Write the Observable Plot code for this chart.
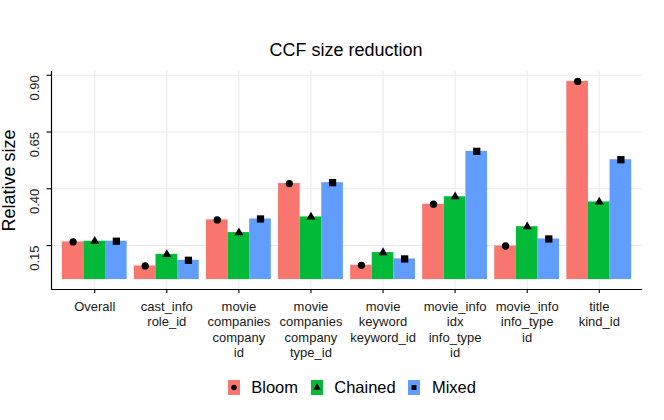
<!DOCTYPE html>
<html>
<head>
<meta charset="utf-8">
<script src="https://cdn.jsdelivr.net/npm/d3@7"></script>
<script src="https://cdn.jsdelivr.net/npm/@observablehq/plot@0.6"></script>
<style>
  body { margin: 0; background: #fff; font-family: "Liberation Sans", Arial, Helvetica, sans-serif; }
  #wrap { width: 664px; height: 420px; position: relative; overflow: hidden; }
  #title { box-sizing: border-box; width: 664px; height: 59px; padding-left: 28px; display: flex; align-items: flex-end; justify-content: center; font-size: 18px; line-height: 18px; color: #000; }
  #chart svg { display: block; }
  #legend { box-sizing: border-box; width: 664px; height: 30px; margin-top: 5px; padding-left: 52px; display: flex; align-items: center; justify-content: center; font-size: 16.5px; color: #000; }
  .item { display: flex; align-items: center; }
  .item svg { display: block; margin-right: 11.7px; }
  .item span { margin-right: 12.5px; }
</style>
</head>
<body>
<div id="wrap">
  <div id="title">CCF size reduction</div>
  <div id="chart"></div>
  <div id="legend"></div>
</div>
<script>
// ---- data ----
const categories = [
  "Overall",
  "cast_info\nrole_id",
  "movie\ncompanies\ncompany\nid",
  "movie\ncompanies\ncompany\ntype_id",
  "movie\nkeyword\nkeyword_id",
  "movie_info\nidx\ninfo_type\nid",
  "movie_info\ninfo_type\nid",
  "title\nkind_id"
];
const seriesNames = ["Bloom", "Chained", "Mixed"];
const bloom   = [0.166, 0.060, 0.263, 0.423, 0.063, 0.332, 0.148, 0.873];
const chained = [0.169, 0.111, 0.207, 0.276, 0.119, 0.365, 0.233, 0.342];
const mixed   = [0.169, 0.085, 0.267, 0.427, 0.091, 0.565, 0.179, 0.528];
const yTicks = [0.15, 0.40, 0.65, 0.90];

const colors = ["#F8766D", "#00BA38", "#619CFF"];
const symbols = ["circle", "triangle", "square"];
const markerR = [3.65, 3.35, 4.1];

// ---- table ----
const seriesValues = [bloom, chained, mixed];
const table = [];
categories.forEach((c, i) => {
  seriesNames.forEach((s, j) => {
    table.push({cat: c, i, series: s, j, value: seriesValues[j][i]});
  });
});

const groupWidth = 0.9;
const barW = groupWidth / seriesNames.length;
const left = d => d.i - groupWidth / 2 + d.j * barW;

const maxV = d3.max(table, d => d.value);
const yDomain = [-0.05 * maxV, maxV * 1.05];
const xDomain = [-0.6, categories.length - 1 + 0.6];
const idx = d3.range(categories.length);

const chart = Plot.plot({
  width: 664,
  height: 308,
  marginLeft: 51,
  marginRight: 22,
  marginTop: 12,
  marginBottom: 78,
  style: {fontFamily: '"Liberation Sans", Arial, Helvetica, sans-serif', background: "#fff", color: "#000"},
  x: {domain: xDomain, axis: null},
  y: {domain: yDomain, axis: null},
  color: {domain: seriesNames, range: colors},
  marks: [
    Plot.gridY({ticks: yTicks, stroke: "#EBEBEB", strokeOpacity: 1, strokeWidth: 1.1}),
    Plot.gridX({ticks: idx, stroke: "#EBEBEB", strokeOpacity: 1, strokeWidth: 1.1}),
    Plot.rectY(table, {x1: left, x2: d => left(d) + barW, y: "value", fill: "series"}),
    ...seriesNames.map((s, j) =>
      Plot.dot(table, {filter: d => d.series === s, x: d => left(d) + barW / 2, y: "value",
                       symbol: symbols[j], fill: "#000", stroke: "none", r: markerR[j]})),
    Plot.ruleY([yDomain[0]], {stroke: "#000", strokeWidth: 1.2}),
    Plot.ruleX([xDomain[0]], {stroke: "#000", strokeWidth: 1.2}),
    Plot.axisX({ticks: idx, tickSize: 4, tickFormat: () => "", label: null, stroke: "#000", strokeWidth: 1.1}),
    Plot.axisY({ticks: yTicks, tickSize: 4.5, tickFormat: () => "", label: null, stroke: "#000", strokeWidth: 1.1}),
    Plot.text(idx, {x: d => d, text: d => categories[d], frameAnchor: "bottom", dy: 10.5, lineAnchor: "top", lineHeight: 1.18, fontSize: 13, fill: "#1a1a1a"}),
    Plot.text(yTicks, {y: d => d, text: d => d3.format(".2f")(d), frameAnchor: "left", dx: -16.3, rotate: -90, textAnchor: "end", fontSize: 13, fill: "#1a1a1a"}),
    Plot.text(["Relative size"], {frameAnchor: "left", dx: -41.8, rotate: -90, textAnchor: "middle", fontSize: 18, fill: "#000"})
  ]
});
document.getElementById("chart").appendChild(chart);

// ---- legend ----
const d3Sym = {circle: d3.symbolCircle, triangle: d3.symbolTriangle, square: d3.symbolSquare};
const legend = document.getElementById("legend");
seriesNames.forEach((s, j) => {
  const item = document.createElement("div");
  item.className = "item";
  const ns = "http://www.w3.org/2000/svg";
  const svg = document.createElementNS(ns, "svg");
  svg.setAttribute("width", 12);
  svg.setAttribute("height", 15);
  const rect = document.createElementNS(ns, "rect");
  rect.setAttribute("width", 12); rect.setAttribute("height", 15);
  rect.setAttribute("fill", colors[j]);
  svg.appendChild(rect);
  const path = document.createElementNS(ns, "path");
  path.setAttribute("d", d3.symbol(d3Sym[symbols[j]], 24)());
  path.setAttribute("transform", "translate(6,7.5)");
  path.setAttribute("fill", "#000");
  svg.appendChild(path);
  const span = document.createElement("span");
  span.textContent = s;
  item.appendChild(svg);
  item.appendChild(span);
  legend.appendChild(item);
});
</script>
</body>
</html>
